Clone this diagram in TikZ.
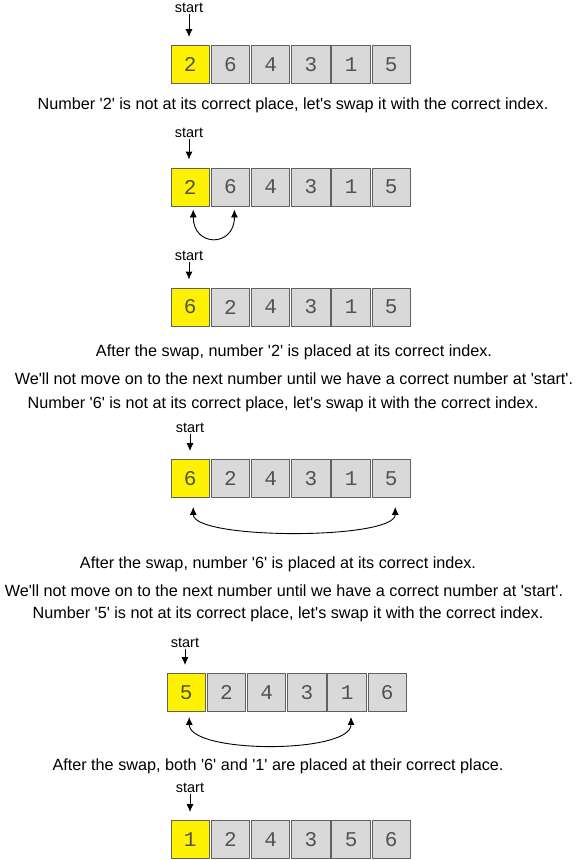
\documentclass[tikz,border=0pt]{standalone}
\usepackage{fontspec}
\setmainfont{Liberation Sans}[Ligatures=TeXOff]
\newfontfamily\cellfont{Liberation Mono}
\usetikzlibrary{arrows.meta}
\definecolor{cellGray}{rgb}{0.85,0.85,0.85}
\definecolor{cellBorder}{rgb}{0.38,0.38,0.38}
\definecolor{digitGray}{rgb}{0.32,0.32,0.32}

\tikzset{
  cell/.style={draw=cellBorder, fill=#1, line width=0.9pt, minimum width=38.5pt, minimum height=38pt, inner sep=0pt, text=digitGray, font=\cellfont\fontsize{21}{21}\selectfont},
  startlabel/.style={inner sep=1pt, font=\fontsize{14.5}{15}\selectfont},
  caption/.style={inner sep=0pt, font=\fontsize{16.2}{18}\selectfont},
  downarrow/.style={-{Latex[length=8pt,width=7pt]}, line width=1pt, shorten >=8pt},
  swaparrow/.style={{Latex[length=8pt,width=7pt]}-{Latex[length=8pt,width=7pt]}, line width=0.9pt}
}

\begin{document}
\begin{tikzpicture}[x=1pt,y=-1pt]
  \useasboundingbox (0,0) rectangle (583,860);

      \def\rows{
        1/171/64.5/189/8/{2,6,4,3,1,5},
        2/171/187/189/133/{2,6,4,3,1,5},
        3/171/307/189/256/{6,2,4,3,1,5},
        4/171/478.5/190/428/{6,2,4,3,1,5},
        5/167/692.5/185/643/{5,2,4,3,1,6},
        6/171/839.5/190/788/{1,2,4,3,5,6}}
      \def\cellStep{40.2}

      % draw the arrays and their start pointers
      \foreach \r/\lx/\cy/\sx/\sy/\vals in \rows
      {
        \node[startlabel] (s\r) at (\sx,\sy) {start};
        \foreach \v [count=\ni] in \vals
        {
          \pgfmathsetmacro\cx{\lx+19.25+(\ni-1)*\cellStep}
          \ifnum\ni=1 \def\cc{yellow}\else\def\cc{cellGray}\fi
          \node[cell=\cc] (c\r-\ni) at (\cx,\cy) {\v};
        }
        \draw[downarrow] (s\r.south) -- (s\r.south |- c\r-1.north);
      }

      % draw the swaps
      \def\swaps{2/1/2/3/38, 4/1/6/9/33, 5/1/5/5/37}
      \foreach \r/\a/\b/\gap/\depth in \swaps
        \draw[swaparrow] ([xshift=3pt,yshift=-\gap pt]c\r-\a.south) .. controls +(0,\depth) and +(0,\depth) .. ([xshift=4pt,yshift=-\gap pt]c\r-\b.south);

      % label all the steps
      \def\captions{
        t1/293/105/{Number '2' is not at its correct place, let's swap it with the correct index.},
        t2/294/352/{After the swap, number '2' is placed at its correct index.},
        t3/294/379/{We'll not move on to the next number until we have a correct number at 'start'.},
        t4/283/404/{Number '6' is not at its correct place, let's swap it with the correct index.},
        t5/278/564/{After the swap, number '6' is placed at its correct index.},
        t6/284/591/{We'll not move on to the next number until we have a correct number at 'start'.},
        t7/288/614/{Number '5' is not at its correct place, let's swap it with the correct index.},
        t8/278/766/{After the swap, both '6' and '1' are placed at their correct place.}}
      \foreach \name/\x/\y/\txt in \captions
        \node[caption] (\name) at (\x,\y) {\txt};

\end{tikzpicture}
\end{document}
